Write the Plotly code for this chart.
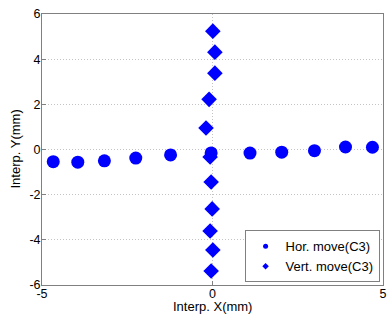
import plotly.graph_objects as go

hor_x = [-4.67, -3.95, -3.17, -2.25, -1.23, -0.04, 1.10, 2.03, 2.99, 3.90, 4.69]
hor_y = [-0.54, -0.56, -0.50, -0.38, -0.24, -0.15, -0.16, -0.12, -0.05, 0.11, 0.10]

vert_x = [0.01, 0.07, 0.07, -0.10, -0.19, -0.07, -0.04, -0.01, -0.07, 0.01, -0.04]
vert_y = [5.24, 4.31, 3.38, 2.22, 0.95, -0.33, -1.44, -2.63, -3.61, -4.45, -5.38]

x_ticks = [-5, 0, 5]
y_ticks = [-6, -4, -2, 0, 2, 4, 6]

BLUE = "#0000ff"
FONT = "Liberation Sans, Arial"

fig = go.Figure()
fig.add_trace(go.Scatter(x=hor_x, y=hor_y, mode="markers", name="Hor. move(C3)",
                         showlegend=False,
                         marker=dict(symbol="circle", size=13, color=BLUE)))
fig.add_trace(go.Scatter(x=vert_x, y=vert_y, mode="markers", name="Vert. move(C3)",
                         showlegend=False,
                         marker=dict(symbol="diamond", size=12, color=BLUE)))
# legend entries (small markers, as in the reference)
fig.add_trace(go.Scatter(x=[None], y=[None], mode="markers", name="Hor. move(C3)",
                         marker=dict(symbol="circle", size=5, color=BLUE)))
fig.add_trace(go.Scatter(x=[None], y=[None], mode="markers", name="Vert. move(C3)",
                         marker=dict(symbol="diamond", size=5, color=BLUE)))

axis_common = dict(showgrid=True, gridcolor="#c4c4c4", griddash="1px,2px", gridwidth=1,
                   showline=True, linecolor="#808080", linewidth=1, mirror=True,
                   ticks="inside", ticklen=4, tickcolor="#808080", zeroline=False,
                   automargin=False, ticklabeloverflow="allow",
                   tickfont=dict(family=FONT, size=12.5, color="black"))

fig.update_layout(
    width=389, height=320,
    margin=dict(l=42, r=6, t=14, b=35),
    paper_bgcolor="white", plot_bgcolor="white",
    font=dict(family=FONT, size=13, color="black"),
    showlegend=True,
    legend=dict(x=0.99, y=0.01, xanchor="right", yanchor="bottom",
                bordercolor="#808080", borderwidth=1, bgcolor="white",
                font=dict(size=13), tracegroupgap=0, itemwidth=30),
    xaxis=dict(range=[-5, 5], tickvals=x_ticks, ticktext=[str(v) for v in x_ticks],
               ticklabelstandoff=-3, **axis_common),
    yaxis=dict(range=[-6, 6], tickvals=y_ticks, ticktext=[str(v) for v in y_ticks],
               ticklabelstandoff=-2, **axis_common),
    annotations=[
        dict(text="Interp. X(mm)", xref="paper", yref="paper", x=0.5, y=0,
             yshift=-21.5, xanchor="center", yanchor="middle", showarrow=False,
             font=dict(family=FONT, size=13)),
        dict(text="Interp. Y(mm)", xref="paper", yref="paper", x=0, y=0.5,
             xshift=-27, xanchor="center", yanchor="middle", showarrow=False,
             textangle=-90, font=dict(family=FONT, size=13)),
    ],
)

fig.write_html("out.html",
               config={"displayModeBar": False},
               post_script="document.body.style.margin='0';document.body.style.overflow='hidden';")
